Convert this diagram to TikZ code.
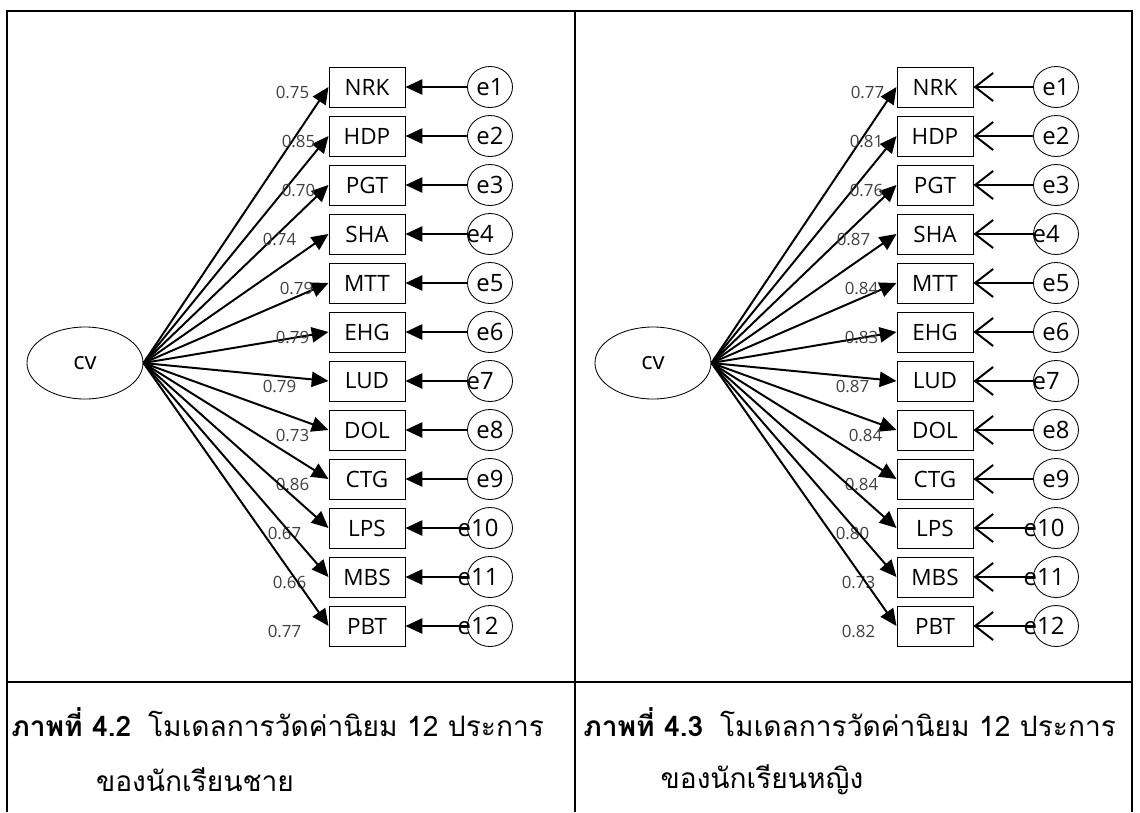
\documentclass[tikz,border=0pt]{standalone}
\usepackage{fontspec}
\setmainfont{Open Sans}
\newfontfamily\thaifont[Script=Thai]{Loma}
\usetikzlibrary{arrows.meta,calc,positioning,shapes.geometric}
\definecolor{coefgray}{HTML}{404040}
\tikzset{
  frame/.style={line width=2pt},
  lat/.style={ellipse, draw, line width=0.6pt, minimum width=2.9cm, minimum height=1.8cm, font=\fontsize{17}{17}\selectfont},
  obs/.style={draw, line width=0.7pt, minimum width=1.9cm, minimum height=1cm, inner sep=0pt, font=\fontsize{16}{16}\selectfont},
  err/.style={ellipse, draw, line width=0.6pt, minimum width=1.125cm, minimum height=1.025cm, inner sep=0pt},
  elab/.style={font=\fontsize{17}{17}\selectfont, inner sep=0pt},
  coef/.style={font=\fontsize{12}{12}\selectfont, text=coefgray, inner sep=0pt},
  load/.style={line width=1.4pt, -{Triangle[length=0.42cm,width=0.38cm]}},
  resA/.style={line width=1.4pt, -{Triangle[length=0.42cm,width=0.38cm]}},
  resB/.style={line width=1.4pt, -{Straight Barb[length=0.45cm,width=0.7cm]}},
  caption/.style={font=\thaifont\fontsize{20}{20}\selectfont, inner sep=0pt},
}
\begin{document}
\begin{tikzpicture}[x=0.025cm,y=-0.025cm]
\useasboundingbox (0,0) rectangle (1140,812);
% table lines
\draw[frame] (7,812) -- (7,11) -- (1132,11) -- (1132,812);
\draw[frame] (575,11) -- (575,812);
\draw[frame] (7,682) -- (1132,682);

% male students
\node[lat] (mcv) at (85,363) {cv};
\foreach \lab/\c/\dx/\es [count=\i] in {NRK/0.75/-36/0, HDP/0.85/-30/0, PGT/0.70/-30/0,
    SHA/0.74/-49/-7, MTT/0.79/-32/0, EHG/0.79/-36/0, LUD/0.79/-49/-7, DOL/0.73/-36/0,
    CTG/0.86/-36/0, LPS/0.67/-44/-8.5, MBS/0.66/-39/-8.5, PBT/0.77/-44/-8.5}{
  \node[obs] (m\lab) at (367,{87+49*(\i-1)}) {\lab};
  \node[err, label={[elab, xshift=\es pt]center:e\i}] (me\i) at (490,{87+49*(\i-1)}) {};
  \draw[load] (mcv.east) -- (m\lab.west);
  \draw[resA] (me\i) -- (m\lab);
  \node[coef] (mc\i) at ($(m\lab.west)+(\dx,5)$) {\c};
}
\node[caption, anchor=west] (mcap1) at (11,722) {\textbf{ภาพที่ 4.2}\hspace{0.6em}โมเดลการวัดค่านิยม 12 ประการ};
\node[caption] (mcap2) at (195,780) {ของนักเรียนชาย};

% female students
\node[lat] (fcv) at (653,363) {cv};
\foreach \lab/\c/\dx/\es [count=\i] in {NRK/0.77/-29/0, HDP/0.81/-30/0, PGT/0.76/-30/0,
    SHA/0.87/-43/-7, MTT/0.84/-35/0, EHG/0.83/-35/0, LUD/0.87/-44/-7, DOL/0.84/-31/0,
    CTG/0.84/-35/0, LPS/0.80/-44/-8.5, MBS/0.73/-38/-8.5, PBT/0.82/-38/-8.5}{
  \node[obs] (f\lab) at (935,{87+49*(\i-1)}) {\lab};
  \node[err, label={[elab, xshift=\es pt]center:e\i}] (fe\i) at (1056,{87+49*(\i-1)}) {};
  \draw[load] (fcv.east) -- (f\lab.west);
  \draw[resB] (fe\i) -- (f\lab);
  \node[coef] (fc\i) at ($(f\lab.west)+(\dx,5)$) {\c};
}
\node[caption, anchor=west] (fcap1) at (583,722) {\textbf{ภาพที่ 4.3}\hspace{0.6em}โมเดลการวัดค่านิยม 12 ประการ};
\node[caption] (fcap2) at (762,780) {ของนักเรียนหญิง};
\end{tikzpicture}
\end{document}
